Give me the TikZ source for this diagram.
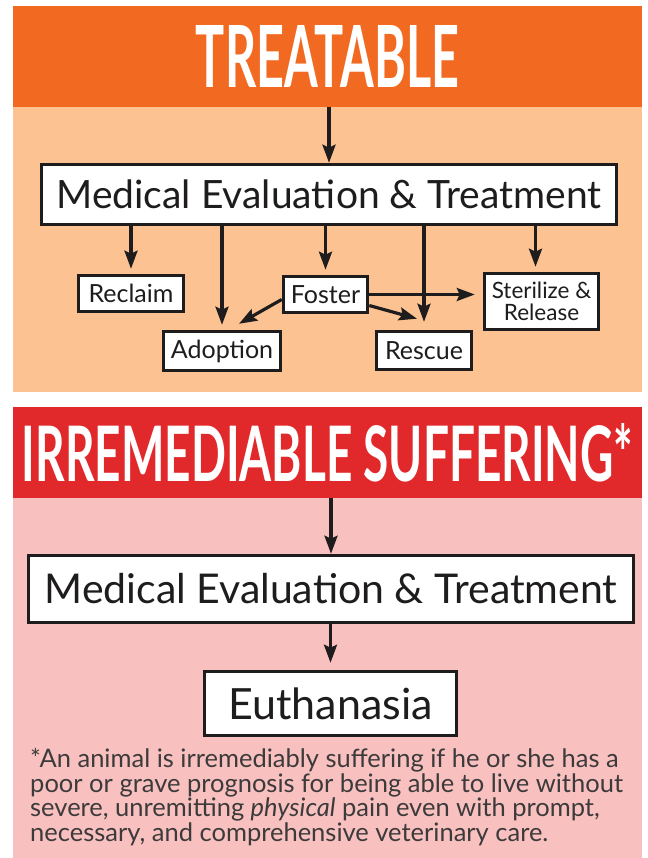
\documentclass[tikz,border=0pt]{standalone}
\usepackage{fontspec}
\setmainfont{Lato}
\usetikzlibrary{arrows.meta}
\definecolor{headorange}{RGB}{242,106,33}
\definecolor{paleorange}{RGB}{252,194,145}
\definecolor{headred}{RGB}{225,41,43}
\definecolor{palepink}{RGB}{248,193,192}
\definecolor{inkblack}{RGB}{30,28,28}
\definecolor{notegray}{RGB}{60,58,58}
\newlength{\du}
\setlength{\du}{1pt}

\begin{document}
\begin{tikzpicture}[x=\du,y=-\du,
  box/.style={draw=inkblack,line width=3.5\du,fill=white,inner sep=0pt,text=inkblack},
  small/.style={font=\fontsize{25}{27}\selectfont},
  arr/.style={draw=inkblack,line width=3.2\du,-{Stealth[length=18pt,width=13pt,inset=3pt]}},
  band/.style={inner sep=0pt,text=white,minimum width=629\du}]
\useasboundingbox (0,0) rectangle (647,858);
% panels
\fill[paleorange] (13,107) rectangle (642,392);
\fill[palepink] (13,498) rectangle (642,858);
% treatable
\node[band,fill=headorange,minimum height=101\du] (treatHead) at (327.5,56.5)
  {\resizebox{263\du}{62\du}{\bfseries TREATABLE}};
\node[box,minimum width=575\du,minimum height=60\du,font=\fontsize{39}{44}\selectfont] (evalA) at (329,194.5) {Medical Evaluation \& Treatment};
\node[box,small,minimum width=105\du,minimum height=36\du] (reclaim) at (131,293.5) {Reclaim};
\node[box,small,minimum width=84\du,minimum height=36\du] (foster) at (325.5,294.5) {Foster};
\node[box,small,minimum width=117\du,minimum height=39\du] (adoption) at (222,351) {Adoption};
\node[box,small,minimum width=95\du,minimum height=38\du] (rescue) at (424,350.5) {Rescue};
\node[box,minimum width=114\du,minimum height=56\du,align=center,font=\fontsize{22.5}{22}\selectfont] (sterilize) at (541.5,301.5) {Sterilize \&\\Release};
\draw[arr] (treatHead.south -| evalA.north) -- (evalA.north);
\draw[arr] (evalA.south -| reclaim.north) -- ([yshift=5\du]reclaim.north);
\draw[arr] (evalA.south -| adoption.north) -- ([yshift=5\du]adoption.north);
\draw[arr] (evalA.south -| foster.north) -- ([yshift=5\du]foster.north);
\draw[arr] (evalA.south -| rescue.north) -- ([yshift=8\du]rescue.north);
\draw[arr] ([xshift=-6\du]evalA.south -| sterilize.north) -- ([xshift=-6\du,yshift=5\du]sterilize.north);
\draw[arr,shorten >=8\du] (foster.east) -- (foster.east -| sterilize.west);
\draw[arr] ([yshift=-5\du]foster.west) -- ([xshift=17\du,yshift=6\du]adoption.north);
\draw[arr] ([yshift=-11\du]foster.east) -- ([xshift=-7\du,yshift=11\du]rescue.north);
% irremediable suffering
\node[band,fill=headred,minimum height=91\du] (sufferHead) at (327.5,452.5)
  {\resizebox{611\du}{58\du}{\bfseries IRREMEDIABLE SUFFERING*}};
\node[box,minimum width=605\du,minimum height=67\du,font=\fontsize{41}{46}\selectfont] (evalB) at (331,589) {Medical Evaluation \& Treatment};
\node[box,minimum width=252\du,minimum height=64\du,font=\fontsize{43}{48}\selectfont] (euthanasia) at (330.5,703.5) {Euthanasia};
\draw[arr] (sufferHead.south -| evalB.north) -- (evalB.north);
\draw[arr] (evalB.south -| euthanasia.north) -- ([yshift=7\du]euthanasia.north);
\node[anchor=base west,inner sep=0pt,align=left,text=notegray,font=\fontsize{25.5}{23}\selectfont] (footnote) at (30,841)
  {*An animal is irremediably suffering if he or she has a\\
   poor or grave prognosis for being able to live without\\
   severe, unremitting \textit{physical} pain even with prompt,\\
   necessary, and comprehensive veterinary care.};
\end{tikzpicture}
\end{document}
